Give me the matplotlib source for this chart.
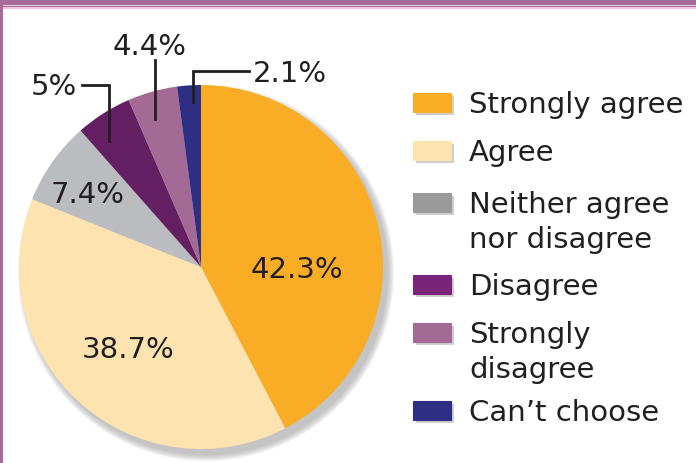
import numpy as np
import matplotlib.pyplot as plt
from matplotlib.patches import Circle, Rectangle

# data
labels = ['Strongly agree', 'Agree', 'Neither agree\nnor disagree',
          'Disagree', 'Strongly\ndisagree', 'Can\u2019t choose']
values = [42.3, 38.7, 7.4, 5.0, 4.4, 2.1]
value_text = ['42.3%', '38.7%', '7.4%', '5%', '4.4%', '2.1%']

pie_colors = ['#F9AD26', '#FDE3AF', '#BBBCBF', '#631F62', '#A46A96', '#2E2F84']
legend_colors = ['#F9AD26', '#FDE3AF', '#9A9A9A', '#7A2479', '#A46A96', '#2E2F84']

g_text_color = '#231F20'
g_frame_color = '#A66B98'
g_fontsize = 21

W, H = 696, 464


def py(y):
    # pixel row (from top) -> data y
    return H - y


fig = plt.figure(figsize=(W / 100, H / 100), dpi=100)
ax = fig.add_axes([0, 0, 1, 1])

cx, cy, r = 201, py(268), 182

# soft shadow behind the pie
for d in np.linspace(6, 0, 7):
    ax.add_patch(Circle((cx + 5, cy - 6), r + d, color='#9A9A9A',
                        alpha=0.11, lw=0, zorder=1))

wedges, _ = ax.pie(values, colors=pie_colors, startangle=90, counterclock=False,
                   center=(cx, cy), radius=r, frame=True,
                   wedgeprops=dict(linewidth=0, zorder=2))
ax.set_xlim(0, W)
ax.set_ylim(0, H)
ax.set_aspect('equal')
ax.axis('off')

# labels inside the big slices
inside = {0: (297, 270), 1: (128, 350), 2: (88, 195)}
for i, (x, y) in inside.items():
    ax.text(x, py(y), value_text[i], fontsize=g_fontsize, color=g_text_color,
            ha='center', va='center', zorder=5)


def wedge_point(i, t, frac):
    # point at fraction t across wedge i, at frac of the radius
    w = wedges[i]
    ang = np.deg2rad(w.theta1 + t * (w.theta2 - w.theta1))
    return cx + frac * r * np.cos(ang), cy + frac * r * np.sin(ang)


# leader lines for the small slices
lw = 2.0
# 5%
x0, y0 = wedge_point(3, 0.71, 0.86)
ax.plot([x0, x0, 82], [y0, py(86), py(86)], color=g_text_color, lw=lw,
        solid_joinstyle='miter', zorder=5)
ax.text(54, py(87), value_text[3], fontsize=g_fontsize, color=g_text_color,
        ha='center', va='center', zorder=5)
# 4.4%
x0, y0 = wedge_point(4, 0.61, 0.85)
ax.plot([x0, x0], [y0, py(61)], color=g_text_color, lw=lw, zorder=5)
ax.text(150, py(47), value_text[4], fontsize=g_fontsize, color=g_text_color,
        ha='center', va='center', zorder=5)
# 2.1%
x0, y0 = wedge_point(5, 0.36, 0.91)
ax.plot([x0, x0, 249], [y0, py(72), py(72)], color=g_text_color, lw=lw,
        solid_joinstyle='miter', zorder=5)
ax.text(290, py(74), value_text[5], fontsize=g_fontsize, color=g_text_color,
        ha='center', va='center', zorder=5)

# legend drawn by hand
box_tops = [94, 142, 194, 276, 324, 402]
for lab, col, top in zip(labels, legend_colors, box_tops):
    ax.add_patch(Rectangle((413 + 3, py(top + 19) - 3), 38, 19,
                           color='#B0B0B0', alpha=0.6, lw=0, zorder=3))
    ax.add_patch(Rectangle((413, py(top + 19)), 38, 19, facecolor=col,
                           edgecolor=col, lw=0.8, zorder=4))
    for k, line in enumerate(lab.split('\n')):
        ax.text(469, py(top + 11 + k * 35), line, fontsize=g_fontsize,
                color=g_text_color, ha='left', va='center', zorder=5)

# frame: purple band at top and thin bar at left
frame = [((0, py(6)), W, 6, g_frame_color),
         ((0, py(7)), W, 1, '#E6CFE0'),
         ((0, py(8)), W, 1, g_frame_color),
         ((0, py(9.5)), W, 1.5, '#F2C6E2'),
         ((0, 0), 2.5, H, g_frame_color)]
for xy, w, h, col in frame:
    ax.add_patch(Rectangle(xy, w, h, color=col, lw=0, zorder=10, clip_on=False))

fig.savefig('out.png', dpi=100)
